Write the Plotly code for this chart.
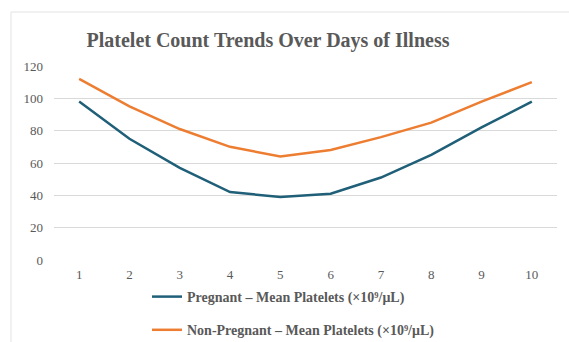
import plotly.graph_objects as go

days = ["1", "2", "3", "4", "5", "6", "7", "8", "9", "10"]
pregnant = [98, 75, 57, 42, 39, 41, 51, 65, 82, 98]
non_pregnant = [112, 95, 81, 70, 64, 68, 76, 85, 98, 110]
y_ticks = [0, 20, 40, 60, 80, 100, 120]

font_fam = "Liberation Serif, Times New Roman, serif"
grey = "#595959"

fig = go.Figure()
fig.add_trace(go.Scatter(x=days, y=pregnant, mode="lines",
                         name="<b>Pregnant – Mean Platelets (×10⁹/μL)</b>",
                         line=dict(color="#1f5f78", width=2.5),
                         legendgroup="a"))
fig.add_trace(go.Scatter(x=days, y=non_pregnant, mode="lines",
                         name="<b>Non-Pregnant – Mean Platelets (×10⁹/μL)</b>",
                         line=dict(color="#ed7d31", width=2.5),
                         legendgroup="b"))

L, R, T, B = 54, 12, 66, 82
W, H = 569, 342
pw = W - L - R
ph = H - T - B

fig.update_layout(
    width=W, height=H,
    margin=dict(l=L, r=R, t=T, b=B, autoexpand=False),
    paper_bgcolor="white", plot_bgcolor="white",
    title=dict(text="<b>Platelet Count Trends Over Days of Illness</b>",
               x=268 / W, xanchor="center", xref="container",
               y=1 - 40 / H, yanchor="middle", yref="container",
               font=dict(family=font_fam, size=20, color=grey)),
    xaxis=dict(type="category", range=[-0.5, 9.5], showgrid=False,
               showline=False, ticks="",
               tickfont=dict(family=font_fam, size=13, color=grey),
               ticklabelstandoff=5),
    yaxis=dict(range=[0, 120], tickvals=y_ticks, showgrid=True,
               gridcolor="#d9d9d9", gridwidth=1, zeroline=False,
               showline=False, ticks="",
               tickfont=dict(family=font_fam, size=13, color=grey),
               ticklabelstandoff=10),
    showlegend=True,
    legend=dict(orientation="v", x=(147 - L) / pw, xanchor="left",
                y=-(281 - (T + ph)) / ph, yanchor="top",
                tracegroupgap=12,
                font=dict(family=font_fam, size=14, color=grey),
                bgcolor="rgba(0,0,0,0)"),
    shapes=[dict(type="rect", xref="paper", yref="paper",
                 x0=(11 - L) / pw, x1=(W + 5 - L) / pw,
                 y0=-(H + 5 - (T + ph)) / ph, y1=(T + ph - 12) / ph,
                 line=dict(color="#e3e3e3", width=1), layer="below")],
)

fig.write_html("out.html", config={"displayModeBar": False},
               post_script="document.body.style.margin='0';document.body.style.padding='0';")
